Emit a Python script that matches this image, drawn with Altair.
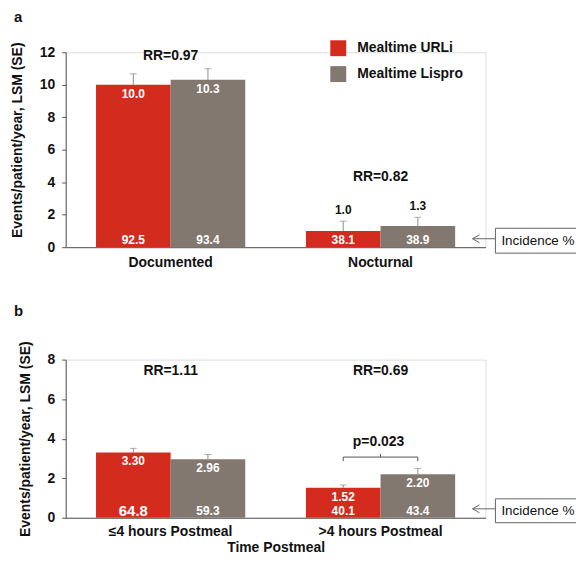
import altair as alt
import pandas as pd

# ---------------- data ----------------
series = ["Mealtime URLi", "Mealtime Lispro"]
colors = ["#D42B1F", "#82786F"]

cats_a = ["Documented", "Nocturnal"]
rate_a = [10.0, 10.3, 1.0, 1.3]
se_a = [0.67, 0.68, 0.60, 0.54]
inc_a = [92.5, 93.4, 38.1, 38.9]
rr_a = ["RR=0.97", "RR=0.82"]

cats_b = ["\u22644 hours Postmeal", ">4 hours Postmeal"]
rate_b = [3.30, 2.96, 1.52, 2.20]
se_b = [0.21, 0.24, 0.14, 0.30]
inc_b = [64.8, 59.3, 40.1, 43.4]
rr_b = ["RR=1.11", "RR=0.69"]
p_text = "p=0.023"

FONT = "Liberation Sans"
AXC = "#555555"
ERRC = "#8c8c8c"


def make_df(cats, rate, se, inc, fmt):
    rows = []
    i = 0
    for c in cats:
        for s in series:
            rows.append({
                "cat": c, "series": s, "rate": rate[i], "top": rate[i] + se[i],
                "zero": 0.0, "inc": inc[i], "lab": format(rate[i], fmt),
                "inclab": format(inc[i], ".1f"),
                "inside": rate[i] >= 1.5,
            })
            i += 1
    return pd.DataFrame(rows)


df_a = make_df(cats_a, rate_a, se_a, inc_a, ".1f")
df_b = make_df(cats_b, rate_b, se_b, inc_b, ".2f")


def panel(df, cats, ymax, ticks, letter, letter_y, rr, rr_y, box_y, xtitle,
          show_legend, title_y, lab_pad, title_pad):
    xscale = alt.Scale(paddingInner=0.289, paddingOuter=0.1445)
    xaxis = alt.Axis(title=xtitle, labelAngle=0, ticks=False, labelFontSize=14,
                     labelFontWeight="bold", labelPadding=lab_pad, domainColor=AXC,
                     labelColor="#111", titleFontSize=14, titleFontWeight="bold",
                     titlePadding=title_pad, titleColor="#111")
    yaxis_kw = dict(values=ticks, grid=False, labelFontSize=14, labelFontWeight="bold",
                    tickSize=4, labelPadding=7, domainColor=AXC, tickColor=AXC,
                    labelColor="#111", labelOverlap=False,
                    title="Events/patient/year, LSM (SE)",
                    titleFontSize=14, titleFontWeight="bold", titlePadding=15,
                    titleColor="#111")
    if title_y is not None:
        yaxis_kw["titleY"] = title_y
    yaxis = alt.Axis(**yaxis_kw)
    yscale = alt.Scale(domain=[0, ymax], nice=False)

    def X():
        return alt.X("cat:N", sort=cats, scale=xscale, axis=xaxis)

    def Y(f):
        return alt.Y(f, scale=yscale, axis=yaxis)

    xo = alt.XOffset("series:N", sort=series,
                     scale=alt.Scale(paddingInner=0, paddingOuter=0))

    if show_legend:
        legend = alt.Legend(orient="none", legendX=266, legendY=-12, title=None,
                            symbolType="square", symbolSize=256, symbolStrokeWidth=0,
                            labelFontSize=14, labelFontWeight="bold", labelColor="#111",
                            labelOffset=11, rowPadding=10, padding=0)
    else:
        legend = None
    color = alt.Color("series:N", sort=series,
                      scale=alt.Scale(domain=series, range=colors), legend=legend)

    base = alt.Chart(df)
    bars = base.mark_bar().encode(x=X(), xOffset=xo, y=Y("rate:Q"), color=color)
    err = base.mark_rule(color=ERRC, strokeWidth=1).encode(
        x=X(), xOffset=xo, y=Y("rate:Q"), y2="top:Q")
    cap = base.mark_tick(color=ERRC, size=7, thickness=1, orient="horizontal").encode(
        x=X(), xOffset=xo, y=Y("top:Q"))
    lab_in = base.transform_filter(alt.datum.inside).mark_text(
        color="white", fontWeight="bold", fontSize=12, baseline="middle", dy=9,
        font=FONT).encode(x=X(), xOffset=xo, y=Y("rate:Q"), text="lab:N")
    lab_out = base.transform_filter(~alt.datum.inside).mark_text(
        color="#111", fontWeight="bold", fontSize=12, baseline="middle", dy=-11,
        font=FONT).encode(x=X(), xOffset=xo, y=Y("top:Q"), text="lab:N")
    lab_inc = base.mark_text(
        color="white", fontWeight="bold", baseline="middle", dy=-7, font=FONT).encode(
        x=X(), xOffset=xo, y=Y("zero:Q"), text="inclab:N",
        size=alt.condition(alt.datum.inc == 64.8, alt.value(15), alt.value(12)))

    rr_df = pd.DataFrame({"cat": cats, "y": rr_y, "t": rr})
    rr_txt = alt.Chart(rr_df).mark_text(
        fontSize=14, fontWeight="bold", color="#111", baseline="alphabetic",
        font=FONT).encode(x=X(), y=Y("y:Q"), text="t:N")

    # "Incidence %" call-out box (open on the right, as it runs off the page)
    one = pd.DataFrame({"t": ["Incidence %"]})
    y0, y1 = box_y
    ym = (y0 + y1) / 2
    bl, br = 432, 513
    edge_c = "#666"
    box_l = alt.Chart(one).mark_rule(color=edge_c).encode(
        x=alt.value(bl), y=alt.value(y0), y2=alt.value(y1))
    box_top = alt.Chart(one).mark_rule(color=edge_c).encode(
        x=alt.value(bl), x2=alt.value(br), y=alt.value(y0))
    box_bot = alt.Chart(one).mark_rule(color=edge_c).encode(
        x=alt.value(bl), x2=alt.value(br), y=alt.value(y1))
    box_t = alt.Chart(one).mark_text(fontSize=13.5, color="#111", align="left",
                                     baseline="middle", font=FONT).encode(
        x=alt.value(bl + 6), y=alt.value(ym), text="t:N")
    ay = ym - 2
    arr = alt.Chart(one).mark_rule(color=edge_c).encode(
        x=alt.value(bl - 23), x2=alt.value(bl), y=alt.value(ay))
    arr1 = alt.Chart(one).mark_rule(color=edge_c).encode(
        x=alt.value(bl - 23), x2=alt.value(bl - 16), y=alt.value(ay), y2=alt.value(ay - 4))
    arr2 = alt.Chart(one).mark_rule(color=edge_c).encode(
        x=alt.value(bl - 23), x2=alt.value(bl - 16), y=alt.value(ay), y2=alt.value(ay + 4))

    let = alt.Chart(pd.DataFrame({"t": [letter]})).mark_text(
        fontSize=15, fontWeight="bold", color="#111", align="left",
        baseline="alphabetic", font=FONT).encode(
        x=alt.value(-52), y=alt.value(letter_y), text="t:N")

    layers = [bars, err, cap, lab_in, lab_out, lab_inc, rr_txt, arr, arr1, arr2,
              box_l, box_top, box_bot, box_t, let]
    return layers, X, Y


W = 422
layers_a, _, _ = panel(df_a, cats_a, 12, [0, 2, 4, 6, 8, 10, 12], "a", -30,
                       rr_a, [11.5, 4.1], (177, 202), None, True, 88, 8, 0)
chart_a = alt.layer(*layers_a).properties(width=W, height=196)

HB = 159
layers_b, Xb, Yb = panel(df_b, cats_b, 8, [0, 2, 4, 6, 8], "b", -44,
                         rr_b, [7.24, 7.24], (140, 164), "Time Postmeal", False, None,
                         7, 2)

# significance bracket for panel b
cat2 = cats_b[1]
br_df = pd.DataFrame({
    "cat": [cat2, cat2, cat2, cat2],
    "series": [series[0], series[0], series[1], series[1]],
    "y": [2.86, 3.07, 3.07, 2.86],
    "o": [0, 1, 2, 3],
})
xob = alt.XOffset("series:N", sort=series,
                  scale=alt.Scale(paddingInner=0, paddingOuter=0))
bracket = alt.Chart(br_df).mark_line(color="#555", strokeWidth=1).encode(
    x=Xb(), xOffset=xob, y=Yb("y:Q"), order="o:Q")
mid = alt.Chart(pd.DataFrame({"cat": [cat2], "y": [3.07], "y2": [3.22]})).mark_rule(
    color="#555", strokeWidth=1).encode(x=Xb(), y=Yb("y:Q"), y2="y2:Q")
p_df = pd.DataFrame({"cat": [cat2], "y": [3.62], "t": [p_text]})
p_txt = alt.Chart(p_df).mark_text(fontSize=14, fontWeight="bold", color="#111",
                                  baseline="alphabetic", font=FONT, dx=-2).encode(
    x=Xb(), y=Yb("y:Q"), text="t:N")

chart_b = alt.layer(*layers_b, bracket, mid, p_txt).properties(width=W, height=HB)

chart = alt.vconcat(chart_a, chart_b, spacing=33).resolve_legend(
    color="independent").properties(
    padding={"left": 1, "top": 0, "right": 0, "bottom": 0}
).configure_view(stroke=None).configure(font=FONT).configure_axis(labelOverlap=False)

chart.save("out.html", embed_options={"renderer": "svg", "actions": False})
